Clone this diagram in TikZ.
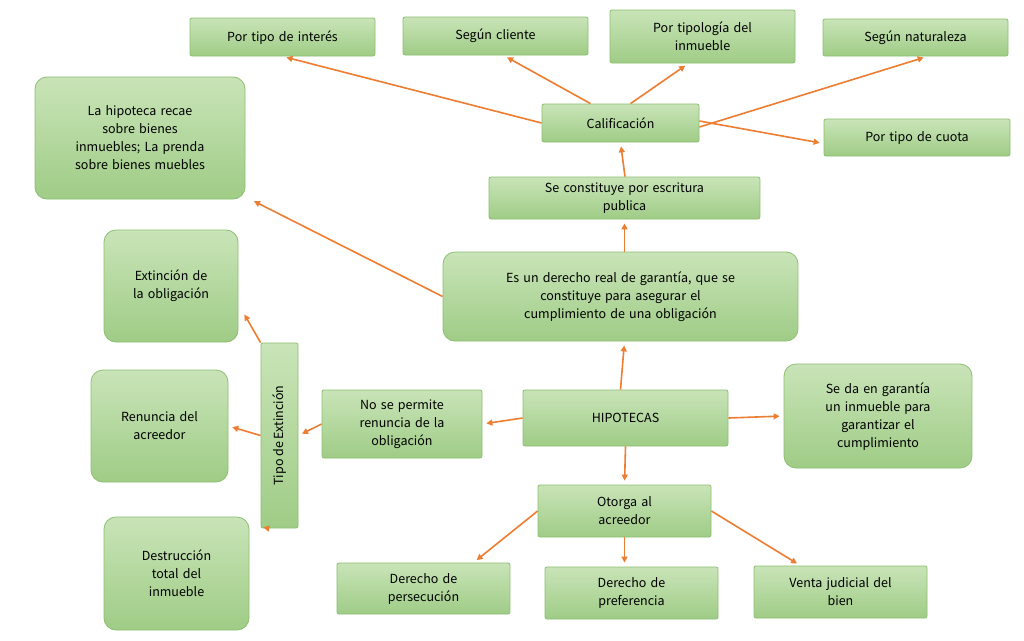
\documentclass[tikz,border=0pt]{standalone}
\usepackage{fontspec}
\setmainfont{Noto Sans CJK JP}
\usetikzlibrary{arrows.meta}
\definecolor{orng}{HTML}{ED7D31}
\definecolor{gtop}{HTML}{C9E4B8}
\definecolor{gbot}{HTML}{9FCC86}
\definecolor{gbrd}{HTML}{8CBF70}
\tikzset{
 box/.style={draw=gbrd, line width=0.8pt, top color=gtop, bottom color=gbot, align=center,
   font=\fontsize{12.5}{18}\selectfont, inner sep=2pt, rounded corners=2pt},
 rbox/.style={box, rounded corners=12pt},
 arr/.style={draw=orng, line width=1.6pt, -{Triangle[length=6pt,width=6pt]}, shorten >=4pt, shorten <=0pt}
}
\begin{document}
\begin{tikzpicture}[x=1pt,y=-1pt]
\useasboundingbox (0,0) rectangle (1024,640);
\fill[white] (0,0) rectangle (1024,640);
\newcommand\bx[7]{\node[#1, minimum width=#4pt, minimum height=#5pt, text width=#6pt] (#2) at (#3) {#7};}
\bx{box}{interes}{282.5,37}{185}{38}{180}{Por tipo de interés}
\bx{box}{cliente}{495.5,36}{185}{38}{180}{Según cliente}
\bx{box}{tipologia}{702.5,36.5}{185}{53}{180}{Por tipología del\\inmueble}
\bx{box}{naturaleza}{915.5,37.5}{185}{37}{180}{Según naturaleza}
\bx{box}{calif}{620.5,123}{157}{38}{150}{Calificación}
\bx{box}{cuota}{917,137.5}{186}{37}{180}{Por tipo de cuota}
\bx{rbox}{recae}{140,138}{210}{122}{200}{La hipoteca recae\\sobre bienes\\inmuebles; La prenda\\sobre bienes muebles}
\bx{box}{escritura}{624.5,198}{271}{42}{265}{Se constituye por escritura\\publica}
\bx{rbox}{extobl}{171,286}{134}{112}{125}{Extinción de\\la obligación}
\bx{rbox}{derecho}{620.5,296.5}{355}{89}{345}{Es un derecho real de garantía, que se\\constituye para asegurar el\\cumplimiento de una obligación}
\bx{rbox}{renuncia}{159.5,426}{137}{112}{130}{Renuncia del\\acreedor}
\bx{box}{nosep}{402,424}{160}{68}{155}{No se permite\\renuncia de la\\obligación}
\bx{box}{hipo}{625.5,418}{205}{56}{200}{HIPOTECAS}
\bx{rbox}{seda}{878,416}{188}{104}{180}{Se da en garantía\\un inmueble para\\garantizar el\\cumplimiento}
\bx{box}{otorga}{624.5,511}{173}{52}{165}{Otorga al\\acreedor}
\bx{rbox}{destr}{176.5,573.5}{145}{113}{140}{Destrucción\\total del\\inmueble}
\bx{box}{persec}{423.5,588.5}{173}{51}{165}{Derecho de\\persecución}
\bx{box}{prefer}{631.5,593}{173}{52}{165}{Derecho de\\preferencia}
\bx{box}{venta}{840.5,592}{173}{52}{165}{Venta judicial del\\bien}
\node[box, minimum width=185pt, minimum height=37pt, rotate=90] (tipo) at (279.5,435.5) {Tipo de Extinción};
% arrows
\draw[arr] (calif.west) -- (interes.south) ;
\draw[arr] ([xshift=-30pt]calif.north) -- ([xshift=8pt]cliente.south);
\draw[arr] ([xshift=10pt]calif.north) -- ([xshift=-14pt]tipologia.south);
\draw[arr] ([yshift=-4pt]calif.east) -- ([xshift=12pt]naturaleza.south);
\draw[arr] ([yshift=2pt]calif.east) -- ([yshift=-6pt]cuota.west);
\draw[arr] (escritura.north) ++(0.5,0) coordinate (e1) (e1) -- (calif.south);
\draw[arr] (derecho.north -| escritura.north) -- (escritura.south);
\draw[arr] (derecho.west) -- ([xshift=5pt]recae.south east);
\draw[arr] (hipo.north -| derecho.north) -- ([xshift=4pt]derecho.south);
\draw[arr] (hipo.east) -- (seda.west);
\draw[arr] (hipo.west) -- (nosep.east);
\draw[arr] (hipo.south) -- (otorga.north);
\draw[arr] (nosep.west) -- (tipo.south);
\draw[arr] (tipo.north east) -- ([xshift=4pt,yshift=-25pt]extobl.east);
\draw[arr] (tipo.north) -- (renuncia.east);
\draw[arr] ([xshift=8pt]tipo.north west) -- ([xshift=10pt,yshift=-10pt]destr.north east);
\draw[arr] (otorga.west) -- ([xshift=50pt]persec.north);
\draw[arr] (otorga.south) -- ([xshift=-7pt]prefer.north);
\draw[arr] (otorga.east) -- ([xshift=-40pt]venta.north);
\end{tikzpicture}
\end{document}
